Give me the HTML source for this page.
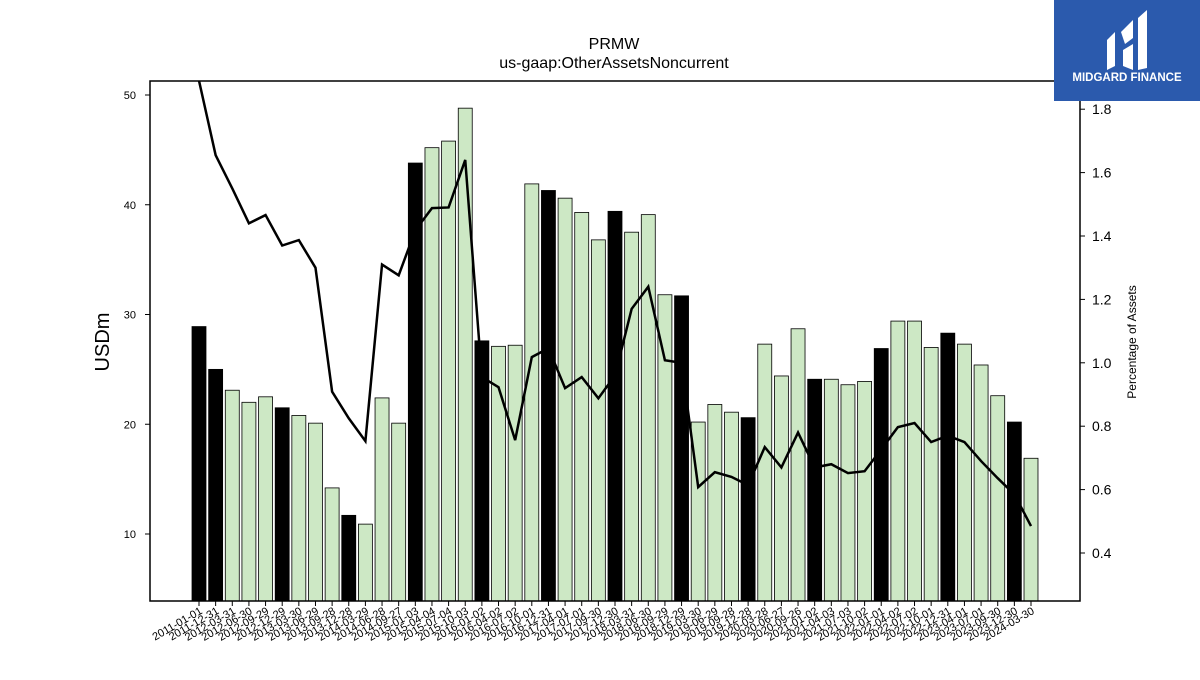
<!DOCTYPE html>
<html><head><meta charset="utf-8"><style>
body{margin:0;background:#fff;}
svg text{font-family:"Liberation Sans","DejaVu Sans",sans-serif;}
</style></head><body>
<svg id="c" width="1200" height="675" xmlns="http://www.w3.org/2000/svg">
<rect width="1200" height="675" fill="#fff"/>
<text x="614" y="49" font-size="16" text-anchor="middle">PRMW</text>
<text x="614" y="68" font-size="16" text-anchor="middle">us-gaap:OtherAssetsNoncurrent</text>
<g id="bars"></g>
<g id="line"></g>
<rect x="150" y="81" width="930" height="520" fill="none" stroke="#000" stroke-width="1.5"/>
<g id="axes"></g>
<text transform="translate(109,342) rotate(-90)" font-size="20" text-anchor="middle">USDm</text>
<text transform="translate(1136,342) rotate(-90)" font-size="12" text-anchor="middle">Percentage of Assets</text>
<g>
<rect x="1054" y="0" width="146" height="101" fill="#2b5aad"/>
<path d="M1107 40 L1115 32 L1115 66 L1107 70 Z M1121 32 L1133 20 L1133 38 L1125 44 Z M1123 50 L1133 44 L1133 70 L1123 66 Z M1138 18 L1147 10 L1147 68 L1138 70 Z" fill="#fff"/>
<text x="1127" y="81" font-size="11.5" font-weight="bold" fill="#fff" text-anchor="middle">MIDGARD FINANCE</text>
</g>
</svg>
<script>
const dates=["2011-01-01","2011-12-31","2012-03-31","2012-06-30","2012-09-29","2012-12-29","2013-03-30","2013-06-29","2013-09-28","2013-12-28","2014-03-29","2014-06-28","2014-09-27","2015-01-03","2015-04-04","2015-07-04","2015-10-03","2016-01-02","2016-04-02","2016-07-02","2016-10-01","2016-12-31","2017-04-01","2017-07-01","2017-09-30","2017-12-30","2018-03-31","2018-06-30","2018-09-29","2018-12-29","2019-03-30","2019-06-29","2019-09-28","2019-12-28","2020-03-28","2020-06-27","2020-09-26","2021-01-02","2021-04-03","2021-07-03","2021-10-02","2022-01-01","2022-04-02","2022-07-02","2022-10-01","2022-12-31","2023-04-01","2023-07-01","2023-09-30","2023-12-30","2024-03-30"];
const usdm=[28.9,25.0,23.1,22.0,22.5,21.5,20.8,20.1,14.2,11.7,10.9,22.4,20.1,43.8,45.2,45.8,48.8,27.6,27.1,27.2,41.9,41.3,40.6,39.3,36.8,39.4,37.5,39.1,31.8,31.7,20.2,21.8,21.1,20.6,27.3,24.4,28.7,24.1,24.1,23.6,23.9,26.9,29.4,29.4,27.0,28.3,27.3,25.4,22.6,20.2,16.9];
const pct=[1.89,1.655,1.55,1.44,1.466,1.37,1.387,1.30,0.909,0.825,0.753,1.31,1.276,1.418,1.488,1.49,1.64,0.955,0.923,0.756,1.018,1.046,0.92,0.955,0.888,0.96,1.17,1.24,1.008,1.0,0.608,0.655,0.64,0.614,0.734,0.67,0.78,0.67,0.68,0.652,0.658,0.727,0.797,0.81,0.75,0.77,0.75,0.69,0.636,0.585,0.485];
const annual=[0,1,5,9,13,17,21,25,29,33,37,41,45,49];
const leftTicks=[10,20,30,40,50];
const rightTicks=[0.4,0.6,0.8,1.0,1.2,1.4,1.6,1.8];
const NS="http://www.w3.org/2000/svg";
const base=601;
function xs(i){return 199+i*(1031-199)/(dates.length-1);}
function yL(v){return 534-(v-10)*10.975;}
function yR(v){return 553-(v-0.4)*317;}
function mk(t,a,p){const e=document.createElementNS(NS,t);for(const k in a)e.setAttribute(k,a[k]);p.appendChild(e);return e;}
const bars=document.getElementById('bars'),line=document.getElementById('line'),axes=document.getElementById('axes');
const bw=(1031-199)/(dates.length-1)*0.84;
usdm.forEach((v,i)=>{
 const r=mk('rect',{x:xs(i)-bw/2,y:yL(v),width:bw,height:base-yL(v),fill:annual.includes(i)?'#000':'#cde8c5',stroke:'#000','stroke-width':0.8},bars);
 
 
 const tk=mk('line',{x1:xs(i),x2:xs(i),y1:601,y2:606,stroke:'#000'},axes);
 
 
 const t=mk('text',{transform:`translate(${xs(i)+4},${613}) rotate(-30)`,'font-size':11,'text-anchor':'end'},axes);
 t.textContent=dates[i];
 
 
});
const p=mk('polyline',{points:pct.map((v,i)=>xs(i)+','+yR(v)).join(' '),fill:'none',stroke:'#000','stroke-width':2.5},line);


line.setAttribute('clip-path','url(#cp)');
const cp=mk('clipPath',{id:'cp'},document.getElementById('c'));
mk('rect',{x:150,y:81,width:930,height:520},cp);
leftTicks.forEach(v=>{
 const l=mk('line',{x1:145,x2:150,y1:yL(v),y2:yL(v),stroke:'#000'},axes);
 
 
 const t=mk('text',{x:136,y:yL(v)+4,'font-size':11,'text-anchor':'end'},axes);
 t.textContent=v;
 
 
});
rightTicks.forEach(v=>{
 const l=mk('line',{x1:1080,x2:1085,y1:yR(v),y2:yR(v),stroke:'#000'},axes);
 
 
 const t=mk('text',{x:1092,y:yR(v)+5,'font-size':14},axes);
 t.textContent=v.toFixed(1);
 
 
});
</script>
</body></html>
